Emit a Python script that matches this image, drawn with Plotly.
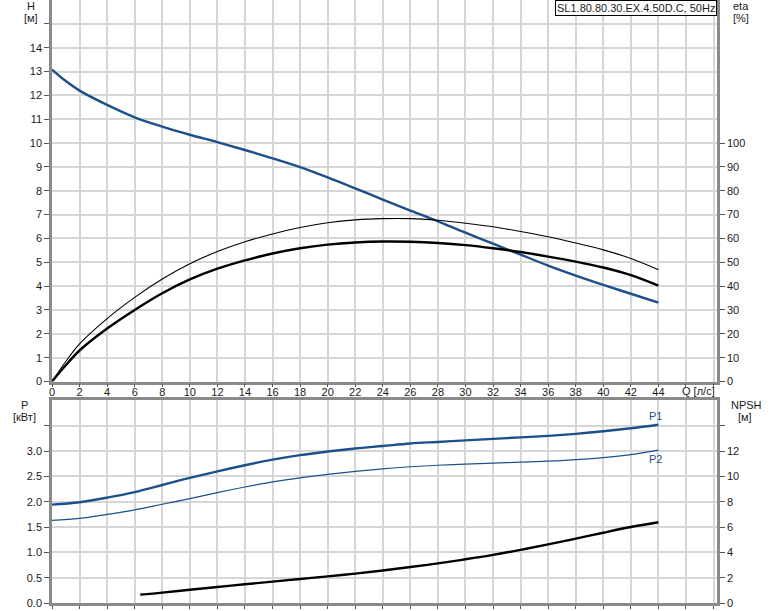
import plotly.graph_objects as go

# ---------------- data ----------------
q = [0, 1, 2, 4, 6, 8, 10, 12, 14, 16, 18, 20, 22, 24, 26, 28, 30, 32, 34, 36, 38, 40, 42, 44]
head = [13.08, 12.6, 12.2, 11.6, 11.08, 10.69, 10.35, 10.04, 9.71, 9.36, 8.99, 8.56, 8.1, 7.63, 7.17,
        6.72, 6.24, 5.78, 5.32, 4.86, 4.44, 4.05, 3.68, 3.31]
eta_hyd = [0, 8.4, 15.8, 26.4, 35.3, 43.0, 49.4, 54.5, 58.6, 61.9, 64.6, 66.6, 67.8, 68.3, 68.3,
           67.6, 66.4, 64.9, 62.9, 60.7, 58.1, 55.2, 51.6, 46.9]
eta_tot = [0, 6.8, 13.0, 22.2, 30.0, 37.0, 42.8, 47.3, 50.8, 53.7, 55.9, 57.4, 58.3, 58.7, 58.6,
           58.1, 57.2, 55.9, 54.3, 52.4, 50.3, 47.8, 44.6, 40.2]
q_p = [0, 2, 4, 6, 8, 10, 12, 14, 16, 18, 20, 22, 24, 26, 28, 30, 32, 34, 36, 38, 40, 42, 44]
p1 = [1.943, 1.99, 2.08, 2.19, 2.33, 2.47, 2.60, 2.72, 2.83, 2.92, 2.99, 3.05, 3.10, 3.15, 3.18,
      3.21, 3.24, 3.27, 3.30, 3.34, 3.39, 3.45, 3.52]
p2 = [1.63, 1.67, 1.75, 1.84, 1.95, 2.06, 2.18, 2.29, 2.39, 2.47, 2.54, 2.60, 2.65, 2.69, 2.72,
      2.74, 2.76, 2.78, 2.80, 2.83, 2.87, 2.93, 3.02]
q_npsh = [6.4, 8, 10, 12, 14, 16, 18, 20, 22, 24, 26, 28, 30, 32, 34, 36, 38, 40, 42, 44]
npsh = [0.66, 0.82, 1.05, 1.26, 1.48, 1.69, 1.90, 2.1, 2.32, 2.57, 2.84, 3.13, 3.45, 3.8, 4.2,
        4.63, 5.08, 5.55, 6.0, 6.38]

x_ticks = list(range(0, 50, 2))
x_ticktext = [str(v) for v in range(0, 46, 2)] + ["", ""]
h_ticks = list(range(0, 16))
h_ticktext = [str(v) for v in range(0, 15)] + [""]
eta_ticks = list(range(0, 110, 10))
p_ticks = [0, 0.5, 1.0, 1.5, 2.0, 2.5, 3.0, 3.5]
p_ticktext = ["0.0", "0.5", "1.0", "1.5", "2.0", "2.5", "3.0", ""]
npsh_ticks = [0, 2, 4, 6, 8, 10, 12, 14]
npsh_ticktext = ["0", "2", "4", "6", "8", "10", "12", ""]

title_text = "SL1.80.80.30.EX.4.50D.C, 50Hz"
q_label = "Q [л/с]"

# ---------------- styles ----------------
BLUE = "#1d4f8a"
GRID = "#d6d6d6"
AXIS = "#8a8a8a"
TICKC = "#555555"
FONT = dict(family="Liberation Sans, Arial, sans-serif", size=11, color="#1a1a1a")

fig = go.Figure()

fig.add_trace(go.Scatter(x=q, y=head, mode="lines", line=dict(color=BLUE, width=2.4, shape="spline"),
                         xaxis="x", yaxis="y", showlegend=False, hoverinfo="skip"))
fig.add_trace(go.Scatter(x=q, y=eta_hyd, mode="lines", line=dict(color="black", width=1.1, shape="spline"),
                         xaxis="x", yaxis="y2", showlegend=False, hoverinfo="skip"))
fig.add_trace(go.Scatter(x=q, y=eta_tot, mode="lines", line=dict(color="black", width=2.4, shape="spline"),
                         xaxis="x", yaxis="y2", showlegend=False, hoverinfo="skip"))
fig.add_trace(go.Scatter(x=q_p, y=p1, mode="lines", line=dict(color=BLUE, width=2.4, shape="spline"),
                         xaxis="x2", yaxis="y3", showlegend=False, hoverinfo="skip"))
fig.add_trace(go.Scatter(x=q_p, y=p2, mode="lines", line=dict(color=BLUE, width=1.2, shape="spline"),
                         xaxis="x2", yaxis="y3", showlegend=False, hoverinfo="skip"))
fig.add_trace(go.Scatter(x=q_npsh, y=npsh, mode="lines", line=dict(color="black", width=2.4, shape="spline"),
                         xaxis="x2", yaxis="y4", showlegend=False, hoverinfo="skip"))

W, H = 774, 611
ml, mr, mt, mb = 52, 57, 0, 8
ph = H - mt - mb
top_dom = [(H - mb - 381.5) / ph, 1.0]
bot_dom = [0.0, (H - mb - 400.4) / ph]

XR = [0, 48.25]

common_x = dict(range=XR, tickvals=x_ticks, showgrid=True, gridcolor=GRID, gridwidth=1.5,
                showline=True, linecolor=AXIS, linewidth=2.5,
                ticks="outside", ticklen=3, tickcolor=TICKC, zeroline=False, tickfont=FONT)
common_y = dict(showline=True, linecolor=AXIS, linewidth=2.5, ticks="outside", ticklen=5,
                tickcolor=TICKC, zeroline=False, tickfont=FONT)

fig.update_layout(
    width=W, height=H,
    margin=dict(l=ml, r=mr, t=mt, b=mb),
    paper_bgcolor="white", plot_bgcolor="white",
    font=FONT,
    showlegend=False,
    xaxis=dict(**common_x, domain=[0, 1], anchor="y", ticktext=x_ticktext, mirror=False,
               ticklabelstandoff=-4),
    yaxis=dict(**common_y, domain=top_dom, range=[0, 16], tickvals=h_ticks, ticktext=h_ticktext,
               showgrid=True, gridcolor=GRID, gridwidth=1.5, anchor="x"),
    yaxis2=dict(**common_y, range=[0, 160], tickvals=eta_ticks, overlaying="y", side="right",
                anchor="x", showgrid=False),
    xaxis2=dict(**common_x, domain=[0, 1], anchor="y3", showticklabels=False, mirror=True),
    yaxis3=dict(**common_y, domain=bot_dom, range=[0, 4], tickvals=p_ticks, ticktext=p_ticktext,
                showgrid=True, gridcolor=GRID, gridwidth=1.5, anchor="x2"),
    yaxis4=dict(**common_y, range=[0, 16], tickvals=npsh_ticks, ticktext=npsh_ticktext,
                overlaying="y3", side="right", anchor="x2", showgrid=False),
)

ann = []
def px_ann(text, x, y, xanchor="center", yanchor="middle", **kw):
    ann.append(dict(text=text, xref="paper", yref="paper",
                    x=(x - ml) / (W - ml - mr), y=(H - mb - y) / ph,
                    xanchor=xanchor, yanchor=yanchor, showarrow=False, font=FONT, **kw))

px_ann("H", 31, 6)
px_ann("[м]", 31, 18)
px_ann("eta", 741, 6)
px_ann("[%]", 741, 18)
px_ann("P", 25, 404.5)
px_ann("[кВт]", 25, 416.5)
px_ann("NPSH", 746, 404.5)
px_ann("[м]", 745, 416.5)
px_ann(q_label, 698, 391)
ann.append(dict(text="P1", xref="x2", yref="y3", x=43.8, y=p1[-1], xanchor="center", yanchor="bottom",
                yshift=1, showarrow=False, font=dict(family=FONT["family"], size=11, color=BLUE)))
ann.append(dict(text="P2", xref="x2", yref="y3", x=43.8, y=p2[-1], xanchor="center", yanchor="top",
                yshift=-1, showarrow=False, font=dict(family=FONT["family"], size=11, color=BLUE)))
px_ann(title_text, 717, 0, xanchor="right", yanchor="top", bordercolor="black", borderwidth=1,
       borderpad=1, bgcolor="white")
fig.update_layout(annotations=ann)

fig.write_html("out.html", config={"displayModeBar": False},
               post_script="document.body.style.margin='0px';")
